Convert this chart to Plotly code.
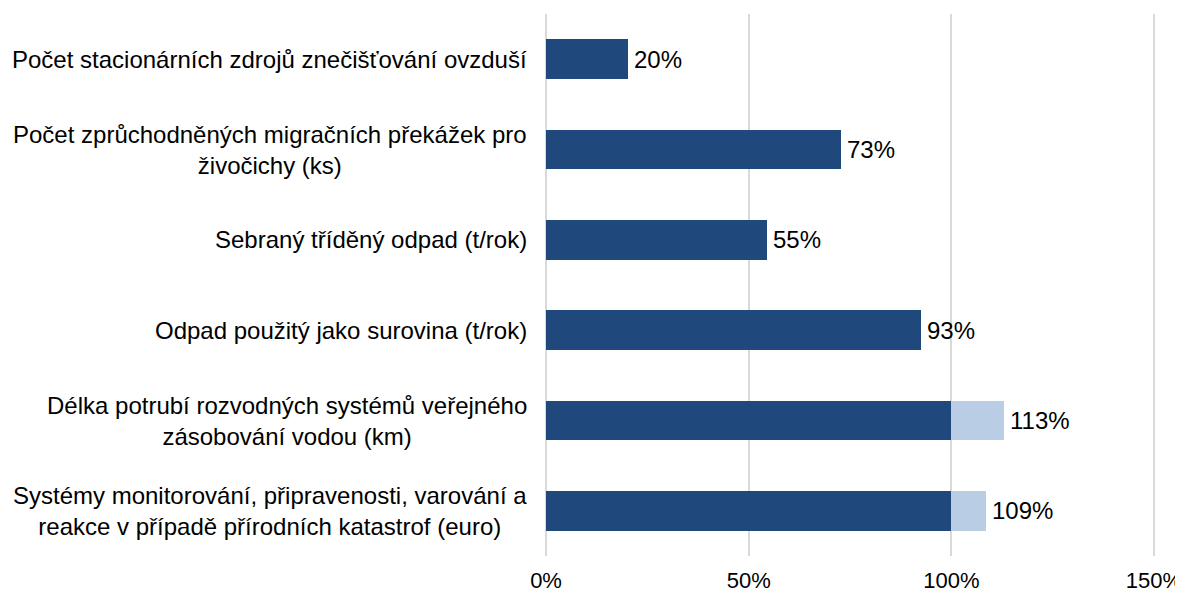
import plotly.graph_objects as go

categories = [
    "Počet stacionárních zdrojů znečišťování ovzduší",
    "Počet zprůchodněných migračních překážek pro<br>živočichy (ks)",
    "Sebraný tříděný odpad (t/rok)",
    "Odpad použitý jako surovina (t/rok)",
    "Délka potrubí rozvodných systémů veřejného<br>zásobování vodou (km)",
    "Systémy monitorování, připravenosti, varování a<br>reakce v případě přírodních katastrof (euro)",
]
values = [20.3, 72.8, 54.6, 92.6, 112.9, 108.6]
labels = ["20%", "73%", "55%", "93%", "113%", "109%"]
tick_vals = [0, 50, 100, 150]
tick_text = ["0%", "50%", "100%", "150%"]

base_part = [min(v, 100) for v in values]
over_part = [max(v - 100, 0) for v in values]

dark = "#1F497D"
light = "#B9CDE5"
font_family = "Liberation Sans, Arial, sans-serif"
fs = 24

fig = go.Figure()
fig.add_trace(go.Bar(y=categories, x=base_part, orientation="h",
                     marker=dict(color=dark, line=dict(width=0)), width=0.44,
                     hoverinfo="skip"))
fig.add_trace(go.Bar(y=categories, x=over_part, orientation="h",
                     marker=dict(color=light, line=dict(width=0)), width=0.44,
                     hoverinfo="skip"))

annotations = []
for cat, v, lab in zip(categories, values, labels):
    annotations.append(dict(x=v, y=cat, xref="x", yref="y", text=lab,
                            showarrow=False, xanchor="left", yanchor="middle",
                            xshift=4, font=dict(size=fs, color="#000000")))
    annotations.append(dict(x=0, y=cat, xref="paper", yref="y", text=cat,
                            showarrow=False, xanchor="right", yanchor="middle",
                            align="center", xshift=-15,
                            font=dict(size=fs, color="#000000")))

fig.update_layout(
    barmode="stack",
    width=1175, height=588,
    margin=dict(l=536, r=27, t=6, b=40, autoexpand=False),
    plot_bgcolor="white", paper_bgcolor="white",
    showlegend=False,
    font=dict(family=font_family, size=fs, color="#000000"),
    annotations=annotations,
    xaxis=dict(range=[-0.5, 150.5], tickvals=tick_vals, ticktext=tick_text,
               showgrid=True, gridcolor="#D9D9D9", gridwidth=2,
               zeroline=False, showline=False, automargin=False,
               ticks="outside", ticklen=5, tickcolor="rgba(0,0,0,0)",
               ticklabeloverflow="allow",
               tickfont=dict(size=22)),
    yaxis=dict(autorange="reversed", showgrid=False, zeroline=False, showline=False,
               showticklabels=False, automargin=False),
)

fig.write_html("out.html")
